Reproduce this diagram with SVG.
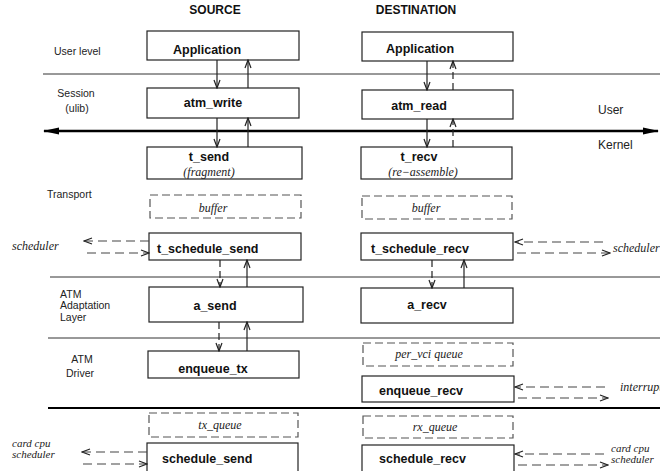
<svg xmlns="http://www.w3.org/2000/svg" width="660" height="471" viewBox="0 0 660 471">
<style>
.box{fill:#fff;stroke:#222;stroke-width:1.2}
.dbox{fill:#fff;stroke:#555;stroke-width:1.2;stroke-dasharray:8,4}
.lbl{font-family:"Liberation Sans",Arial,sans-serif;font-size:12.5px;font-weight:bold;fill:#111}
.hd{font-family:"Liberation Sans",Arial,sans-serif;font-size:12px;font-weight:bold;fill:#111}
.side{font-family:"Liberation Sans",Arial,sans-serif;font-size:10.5px;fill:#222}
.uk{font-family:"Liberation Sans",Arial,sans-serif;font-size:12px;fill:#222}
.it{font-family:"Liberation Serif","Times New Roman",serif;font-size:12px;font-style:italic;fill:#222}
.its{font-family:"Liberation Serif","Times New Roman",serif;font-size:11px;font-style:italic;fill:#222}
.hl{stroke:#333;stroke-width:1;fill:none}
.ar{stroke:#222;stroke-width:1.2;fill:none;marker-end:url(#a)}
.ard{stroke:#222;stroke-width:1.2;fill:none;stroke-dasharray:7,4;marker-end:url(#a)}
.sch{stroke:#444;stroke-width:1.2;fill:none;stroke-dasharray:9,5;marker-end:url(#a)}
</style>
<defs>
<marker id="a" markerUnits="userSpaceOnUse" markerWidth="10" markerHeight="8" refX="9" refY="4" orient="auto">
<path d="M1,1 L9,4 L1,7" fill="none" stroke="#222" stroke-width="1.2"/>
</marker>
<marker id="big" markerUnits="userSpaceOnUse" markerWidth="16" markerHeight="8" refX="15" refY="4" orient="auto-start-reverse">
<path d="M0,0.5 L16,4 L0,7.5 z" fill="#000"/>
</marker>
</defs>
<rect width="660" height="471" fill="#fff"/>

<!-- headings and layer labels -->
<text class="hd" x="215" y="14" text-anchor="middle">SOURCE</text>
<text class="hd" x="416" y="14" text-anchor="middle">DESTINATION</text>
<text class="side" x="54" y="55">User level</text>
<text class="side" x="76" y="97" text-anchor="middle">Session</text>
<text class="side" x="77" y="112" text-anchor="middle">(ulib)</text>
<text class="side" x="47" y="198">Transport</text>
<text class="side" x="60" y="298">ATM</text>
<text class="side" x="60" y="309">Adaptation</text>
<text class="side" x="60" y="321">Layer</text>
<text class="side" x="82" y="363" text-anchor="middle">ATM</text>
<text class="side" x="80" y="377" text-anchor="middle">Driver</text>
<text class="uk" x="598" y="114">User</text>
<text class="uk" x="598" y="149">Kernel</text>
<text class="it" x="12" y="250">scheduler</text>
<text class="it" x="613" y="252">scheduler</text>
<text class="it" x="620" y="391">interrupt</text>
<text class="its" x="12" y="447">card cpu</text>
<text class="its" x="12" y="458">scheduler</text>
<text class="its" x="611" y="452">card cpu</text>
<text class="its" x="611" y="463">scheduler</text>

<!-- layer separators -->
<g id="separators">
<line class="hl" x1="43" y1="74" x2="660" y2="74"/>
<line x1="44" y1="131" x2="658" y2="131" stroke="#000" stroke-width="2.5" marker-start="url(#big)" marker-end="url(#big)"/>
<line class="hl" x1="50" y1="277" x2="660" y2="277"/>
<line class="hl" x1="48" y1="338" x2="660" y2="338"/>
<line x1="48" y1="408" x2="660" y2="408" stroke="#000" stroke-width="2"/>
</g>

<!-- source nodes -->
<g id="src-application"><rect class="box" x="147" y="31" width="152" height="29"/><text class="lbl" x="207" y="54" text-anchor="middle">Application</text></g>
<g id="src-atm_write"><rect class="box" x="147" y="88" width="152" height="30"/><text class="lbl" x="213" y="107" text-anchor="middle">atm_write</text></g>
<g id="src-t_send"><rect class="box" x="147" y="147" width="155" height="32"/><text class="lbl" x="209" y="161" text-anchor="middle">t_send</text><text class="it" x="209" y="176" text-anchor="middle">(fragment)</text></g>
<g id="src-buffer"><rect class="dbox" x="150" y="195" width="151" height="23"/><text class="it" x="213" y="212" text-anchor="middle">buffer</text></g>
<g id="src-t_schedule_send"><rect class="box" x="149" y="233" width="152" height="27"/><text class="lbl" x="157" y="253">t_schedule_send</text></g>
<g id="src-a_send"><rect class="box" x="149" y="287" width="154" height="35"/><text class="lbl" x="215" y="310" text-anchor="middle">a_send</text></g>
<g id="src-enqueue_tx"><rect class="box" x="148" y="351" width="151" height="27"/><text class="lbl" x="213" y="373" text-anchor="middle">enqueue_tx</text></g>
<g id="src-tx_queue"><rect class="dbox" x="149" y="413" width="149" height="24"/><text class="it" x="220" y="429" text-anchor="middle">tx_queue</text></g>
<g id="src-schedule_send"><rect class="box" x="147" y="443" width="151" height="32"/><text class="lbl" x="162" y="463">schedule_send</text></g>

<!-- destination nodes -->
<g id="dst-application"><rect class="box" x="362" y="32" width="151" height="29"/><text class="lbl" x="420" y="53" text-anchor="middle">Application</text></g>
<g id="dst-atm_read"><rect class="box" x="362" y="90" width="151" height="29"/><text class="lbl" x="419" y="110" text-anchor="middle">atm_read</text></g>
<g id="dst-t_recv"><rect class="box" x="361" y="147" width="151" height="32"/><text class="lbl" x="419" y="161" text-anchor="middle">t_recv</text><text class="it" x="423" y="176" text-anchor="middle">(re−assemble)</text></g>
<g id="dst-buffer"><rect class="dbox" x="362" y="196" width="150" height="23"/><text class="it" x="426" y="212" text-anchor="middle">buffer</text></g>
<g id="dst-t_schedule_recv"><rect class="box" x="361" y="233" width="152" height="27"/><text class="lbl" x="371" y="253">t_schedule_recv</text></g>
<g id="dst-a_recv"><rect class="box" x="361" y="288" width="152" height="35"/><text class="lbl" x="427" y="309" text-anchor="middle">a_recv</text></g>
<g id="dst-per_vci"><rect class="dbox" x="363" y="343" width="150" height="23"/><text class="it" x="429" y="358" text-anchor="middle">per_vci queue</text></g>
<g id="dst-enqueue_recv"><rect class="box" x="362" y="376" width="152" height="26"/><text class="lbl" x="379" y="395">enqueue_recv</text></g>
<g id="dst-rx_queue"><rect class="dbox" x="363" y="416" width="150" height="22"/><text class="it" x="435" y="431" text-anchor="middle">rx_queue</text></g>
<g id="dst-schedule_recv"><rect class="box" x="362" y="445" width="152" height="30"/><text class="lbl" x="379" y="463">schedule_recv</text></g>

<!-- connectors -->
<g id="connectors">
<line class="ar" x1="217" y1="60" x2="217" y2="88"/>
<line class="ar" x1="248" y1="88" x2="248" y2="60"/>
<line class="ar" x1="217" y1="118" x2="217" y2="147"/>
<line class="ar" x1="248" y1="147" x2="248" y2="118"/>
<line class="ard" x1="220" y1="260" x2="220" y2="287"/>
<line class="ar" x1="247" y1="287" x2="247" y2="260"/>
<line class="ard" x1="219" y1="322" x2="219" y2="351"/>
<line class="ar" x1="247" y1="351" x2="247" y2="322"/>

<line class="ar" x1="427" y1="61" x2="427" y2="90"/>
<line class="ard" x1="453" y1="90" x2="453" y2="61"/>
<line class="ar" x1="427" y1="119" x2="427" y2="147"/>
<line class="ard" x1="453" y1="147" x2="453" y2="119"/>
<line class="ard" x1="432" y1="260" x2="432" y2="288"/>
<line class="ar" x1="464" y1="288" x2="464" y2="260"/>

<line class="sch" x1="149" y1="241" x2="84" y2="241"/>
<line class="sch" x1="87" y1="253" x2="149" y2="253"/>
<line class="sch" x1="603" y1="242" x2="515" y2="242"/>
<line class="sch" x1="517" y1="253" x2="610" y2="253"/>
<line class="sch" x1="605" y1="387" x2="515" y2="387"/>
<line class="sch" x1="518" y1="398" x2="608" y2="398"/>
<line class="sch" x1="147" y1="452" x2="82" y2="452"/>
<line class="sch" x1="83" y1="464" x2="147" y2="464"/>
<line class="sch" x1="604" y1="454" x2="515" y2="454"/>
<line class="sch" x1="518" y1="465" x2="608" y2="465"/>
</g>
</svg>
